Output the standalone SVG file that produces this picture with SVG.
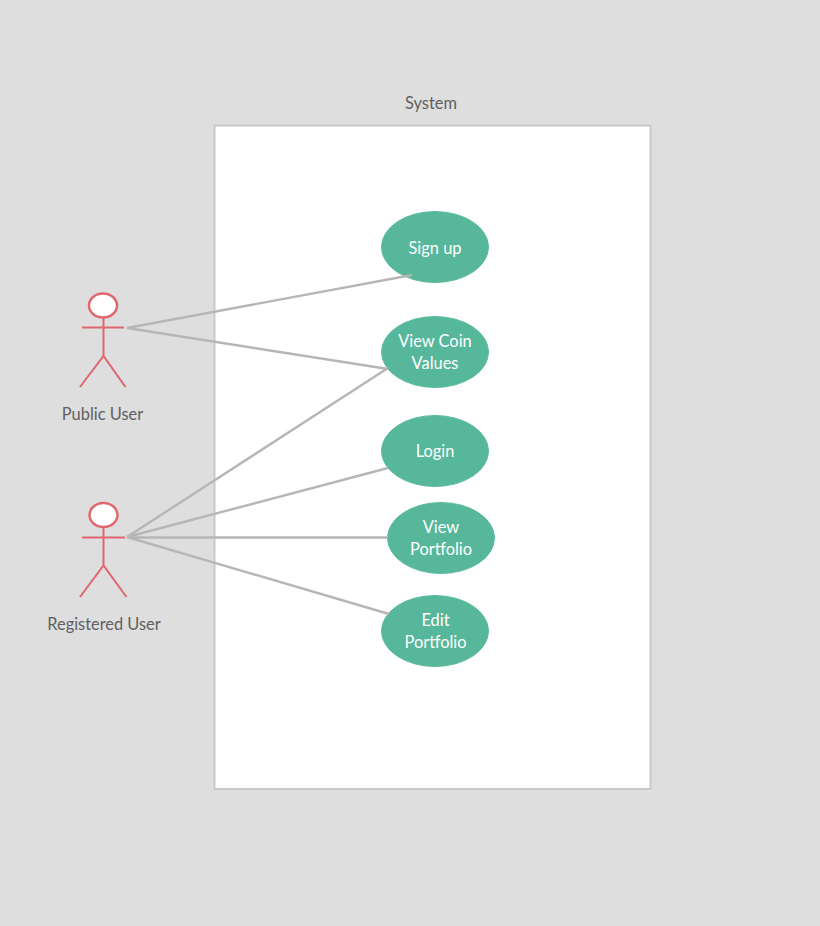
<svg xmlns="http://www.w3.org/2000/svg" width="820" height="926" viewBox="0 0 820 926">
<style>
text{font-family:Lato,"Open Sans",sans-serif;font-size:16.4px;text-anchor:middle}
.l{fill:#606060}
.w{fill:#fff}
.uc{fill:#57b79a;stroke:#5cbb9f;stroke-width:1}
.a{fill:none;stroke:#e0666e;stroke-width:2}
.h{fill:#fff;stroke:#e0666e;stroke-width:2.4}
.c{fill:none;stroke:#b8b6b4;stroke-width:2.4}
</style>
<rect width="820" height="926" fill="#dedede"/>
<g id="system">
<rect x="214.500" y="125.500" width="436" height="663.500" fill="#fff" stroke="#c9c9c9" stroke-width="2"/>
<text class="l" x="431" y="108.500">System</text>
</g>
<g id="public-user">
<ellipse class="h" cx="103" cy="305.500" rx="14" ry="12"/>
<path class="a" d="M103.500 318V356M82 327.500H124M80 387L103.500 356L125.500 387"/>
<text class="l" x="102.500" y="419.500">Public User</text>
</g>
<g id="registered-user">
<ellipse class="h" cx="103.500" cy="515" rx="14" ry="12"/>
<path class="a" d="M103.500 527V565.500M82 537.500H125M80 597L103.500 565.500L126.500 597"/>
<text class="l" x="104" y="629.500">Registered User</text>
</g>
<g id="sign-up">
<ellipse class="uc" cx="435" cy="247" rx="53.500" ry="35.500"/>
<text class="w" x="435" y="253.500">Sign up</text>
</g>
<g id="view-coin-values">
<ellipse class="uc" cx="435" cy="352" rx="53.500" ry="35.500"/>
<text class="w" x="435" y="346.500">View Coin</text>
<text class="w" x="435" y="369">Values</text>
</g>
<g id="login">
<ellipse class="uc" cx="435" cy="451" rx="53.500" ry="35.500"/>
<text class="w" x="435" y="457">Login</text>
</g>
<g id="view-portfolio">
<ellipse class="uc" cx="441" cy="538" rx="53.500" ry="35.500"/>
<text class="w" x="441" y="532.500">View</text>
<text class="w" x="441" y="555">Portfolio</text>
</g>
<g id="edit-portfolio">
<ellipse class="uc" cx="435" cy="631" rx="53.500" ry="35.500"/>
<text class="w" x="435.500" y="625.500">Edit</text>
<text class="w" x="435.500" y="648">Portfolio</text>
</g>
<g id="connectors">
<line class="c" x1="127" y1="328" x2="412" y2="275"/>
<line class="c" x1="127" y1="328" x2="388" y2="369"/>
<line class="c" x1="127" y1="537" x2="388" y2="368"/>
<line class="c" x1="127" y1="537" x2="388" y2="468"/>
<line class="c" x1="127" y1="537.500" x2="388" y2="537.500"/>
<line class="c" x1="127" y1="537" x2="389" y2="614"/>
</g>
</svg>
